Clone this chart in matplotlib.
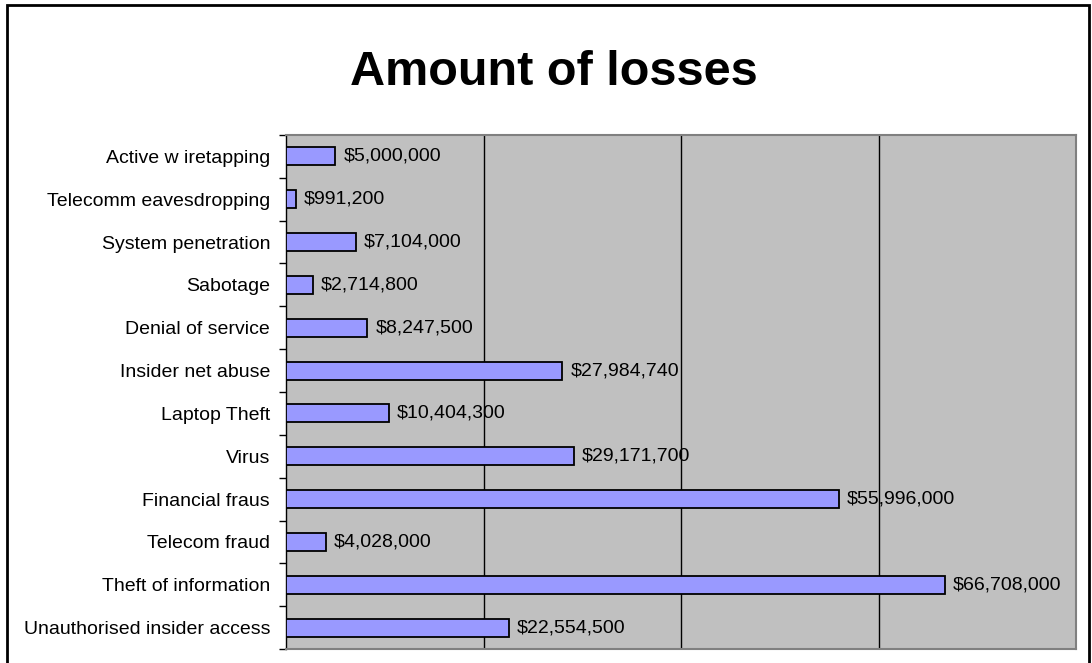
import numpy as np
import matplotlib.pyplot as plt
from matplotlib.patches import Rectangle

categories = [
    "Unauthorised insider access",
    "Theft of information",
    "Telecom fraud",
    "Financial fraus",
    "Virus",
    "Laptop Theft",
    "Insider net abuse",
    "Denial of service",
    "Sabotage",
    "System penetration",
    "Telecomm eavesdropping",
    "Active w iretapping",
]
losses = [22554500, 66708000, 4028000, 55996000, 29171700, 10404300,
          27984740, 8247500, 2714800, 7104000, 991200, 5000000]

plt.rcParams["font.family"] = ["Liberation Sans", "DejaVu Sans"]

fig = plt.figure(figsize=(10.92, 6.63), dpi=100)
ax = fig.add_axes([286 / 1092, 1 - 649 / 663, 790 / 1092, 514 / 663])

y = np.arange(len(categories))
ax.barh(y, losses, height=0.42, color="#9999FF", edgecolor="black",
        linewidth=1.3, zorder=3)

# value labels just right of each bar
for yi, v in zip(y, losses):
    ax.text(v + 0.8e6, yi, f"${v:,}", va="center", ha="left",
            fontsize=14, zorder=4)

ax.set_facecolor("#C0C0C0")
ax.set_xlim(0, 80e6)
ax.set_ylim(-0.5, len(categories) - 0.5)
ax.set_xticks([20e6, 40e6, 60e6])
ax.xaxis.grid(True, color="black", linewidth=1.0, zorder=1)
ax.tick_params(axis="x", bottom=False, labelbottom=False)

ax.set_yticks(y)
ax.set_yticklabels(categories, fontsize=14)
ax.set_yticks(np.arange(-0.5, len(categories), 1), minor=True)
ax.tick_params(axis="y", which="major", length=0, pad=11.5)
ax.tick_params(axis="y", which="minor", length=5, width=1, color="black",
               direction="out")

for side in ["top", "right", "bottom"]:
    ax.spines[side].set_color("#808080")
    ax.spines[side].set_linewidth(1.5)
ax.spines["left"].set_color("black")
ax.spines["left"].set_linewidth(1.0)

fig.text(554 / 1092, 1 - 85 / 663, "Amount of losses", ha="center",
         va="baseline", fontsize=35, fontweight="bold")

# outer chart border
fig.patches.append(Rectangle((7 / 1092, -0.01), 1082 / 1092, 1 - 5 / 663 + 0.01,
                             transform=fig.transFigure, fill=False,
                             edgecolor="black", linewidth=2))

fig.savefig("out.png", dpi=100)
